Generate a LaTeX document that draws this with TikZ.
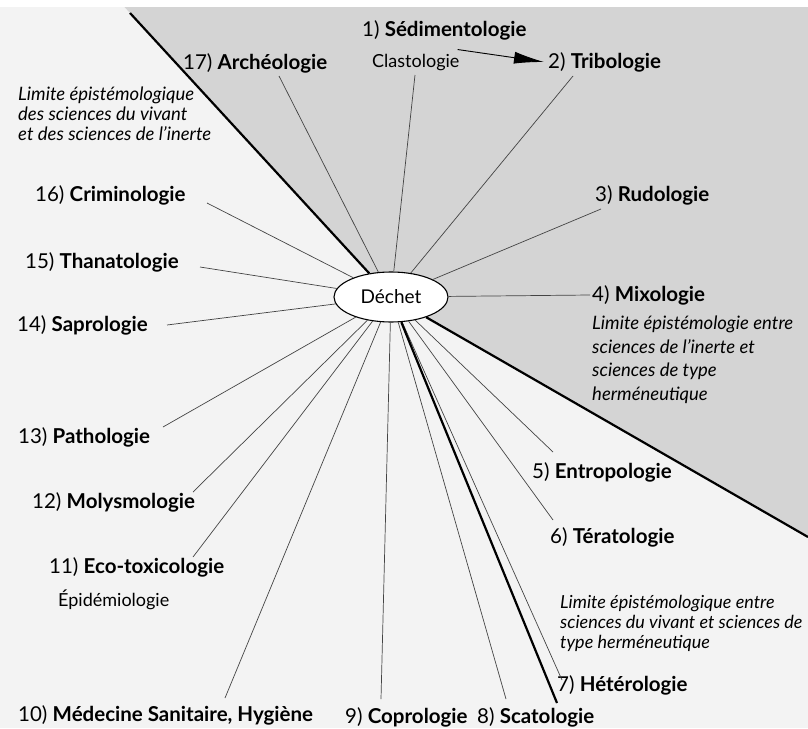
\documentclass[tikz,border=0pt]{standalone}
\usepackage{fontspec}
\setmainfont{Lato}
\usetikzlibrary{arrows.meta,shapes.geometric}
\definecolor{wedge}{HTML}{D4D4D4}
\definecolor{bg}{HTML}{F3F3F3}
\definecolor{ln}{HTML}{444444}
\begin{document}
\begin{tikzpicture}[x=1pt,y=-1pt,
  lab/.style={anchor=west,inner sep=0pt,font=\fontsize{20.5}{24}\selectfont},
  sub/.style={anchor=west,inner sep=0pt,font=\fontsize{18}{21}\selectfont},
  note/.style={anchor=north west,inner sep=0pt,align=left,font=\fontsize{18.5}{20}\itshape\selectfont},
  ray/.style={draw=ln,line width=0.7pt},
  border/.style={draw=black,line width=2.2pt},
]
\useasboundingbox (0,0) rectangle (808,728);
\fill[bg] (0,0) rectangle (808,728);
\fill[white] (0,0) rectangle (808,7);
\fill[wedge] (124.5,7) -- (808,7) -- (808,537) -- (391,297) -- cycle;

\node[ellipse,draw=black,line width=1.1pt,fill=white,minimum width=114pt,minimum height=50pt,inner sep=0pt,font=\fontsize{19}{22}\selectfont] (dechet) at (391,297) {Déchet};

% labels
\node[lab] (l17) at (183,63) {17) \textbf{Archéologie}};
\node[lab] (l1) at (362,30) {1) \textbf{Sédimentologie}};
\node[sub] (clast) at (372,63) {Clastologie};
\node[lab] (l2) at (548,62) {2) \textbf{Tribologie}};
\node[lab] (l3) at (595,195) {3) \textbf{Rudologie}};
\node[lab] (l4) at (592,295) {4) \textbf{Mixologie}};
\node[note,font=\fontsize{18.5}{23.5}\itshape\selectfont] (n4) at (592,316) {Limite épistémologie entre\\sciences de l’inerte et\\sciences de type\\herméneutique};
\node[lab] (l5) at (532,472) {5) \textbf{Entropologie}};
\node[lab] (l6) at (550,537) {6) \textbf{Tératologie}};
\node[note,font=\fontsize{18}{20}\itshape\selectfont] (n7) at (560,595.5) {Limite épistémologique entre\\sciences du vivant et sciences de\\type herméneutique};
\node[lab] (l7) at (557,685) {7) \textbf{Hétérologie}};
\node[lab] (l8) at (477,717) {8) \textbf{Scatologie}};
\node[lab] (l9) at (345,717) {9) \textbf{Coprologie}};
\node[lab] (l10) at (18,715) {10) \textbf{Médecine Sanitaire, Hygiène}};
\node[lab] (l11) at (49,567) {11) \textbf{Eco-toxicologie}};
\node[sub] (epid) at (58,600) {Épidémiologie};
\node[lab] (l12) at (32,502) {12) \textbf{Molysmologie}};
\node[lab] (l13) at (18,437) {13) \textbf{Pathologie}};
\node[lab] (l14) at (17,325) {14) \textbf{Saprologie}};
\node[lab] (l15) at (25,262) {15) \textbf{Thanatologie}};
\node[lab] (l16) at (35,195) {16) \textbf{Criminologie}};
\node[note] (n17) at (18,87) {Limite épistémologique\\des sciences du vivant\\et des sciences de l’inerte};

% ray ends
\coordinate (e17) at (279,76);
\coordinate (e1) at (415,75);
\coordinate (e2) at (573,76);
\coordinate (e3) at (601,209);
\coordinate (e4) at (590,295);
\coordinate (e5) at (553,452);
\coordinate (e6) at (553,520);
\coordinate (e7) at (562,680);
\coordinate (e8) at (506,699);
\coordinate (e9) at (381,699);
\coordinate (e10) at (225,698);
\coordinate (e11) at (193,557);
\coordinate (e12) at (193,492);
\coordinate (e13) at (163,427);
\coordinate (e14) at (167,325);
\coordinate (e15) at (200,267);
\coordinate (e16) at (207,203);
\coordinate (t1) at (130,13);
\coordinate (t2) at (808,537);
\coordinate (t3) at (557,703);

\foreach \e in {e17,e1,e2,e3,e4,e5,e6,e7,e8,e9,e10,e11,e12,e13,e14,e15,e16}
  \draw[ray] (dechet) -- (\e);
\foreach \t in {t1,t2,t3}
  \draw[border] (dechet) -- (\t);

\draw[line width=0.9pt,-{Latex[length=30pt,width=12pt]}] ([xshift=-2pt,yshift=5pt]clast.north east) -- ([xshift=-4pt]l2.west);
\end{tikzpicture}
\end{document}
